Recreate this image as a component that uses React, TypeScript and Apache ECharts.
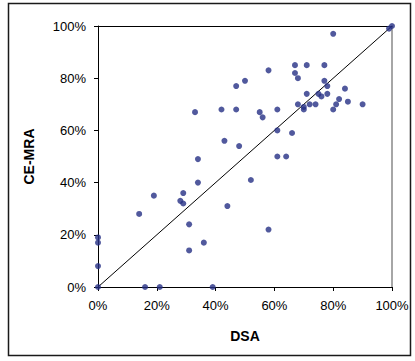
import React, { useEffect, useRef } from "react";
import * as echarts from "echarts";

const dsa = [0, 0, 0, 0, 16, 21, 39, 14, 19, 28, 29, 29, 31, 31, 33, 34, 34, 36, 42, 43, 44, 47, 47, 48, 50, 52, 55, 56, 58, 58, 61, 61, 61, 64, 66, 67, 67, 68, 68, 70, 70, 71, 71, 72, 74, 75, 76, 77, 77, 78, 78, 80, 80, 81, 82, 84, 85, 90, 99, 100];
const cemra = [0, 19, 17, 8, 0, 0, 0, 28, 35, 33, 36, 32, 24, 14, 67, 49, 40, 17, 68, 56, 31, 77, 68, 54, 79, 41, 67, 65, 83, 22, 68, 60, 50, 50, 59, 85, 82, 80, 70, 69, 68, 85, 74, 70, 70, 74, 73, 85, 79, 77, 74, 97, 68, 70, 72, 76, 71, 70, 99, 100];
const identityLine = [[0, 0], [100, 100]];
const tickValues = { min: 0, max: 100, interval: 20 };
const xTitle = "DSA";
const yTitle = "CE-MRA";

export default function App() {
  const ref = useRef<HTMLDivElement>(null);
  useEffect(() => {
    document.body.style.margin = "0";
    if (!ref.current) return;
    const chart = echarts.init(ref.current, null, { renderer: "svg" });
    const font = "Liberation Sans, Arial, sans-serif";
    const points = dsa.map((x, i) => [x, cemra[i]]);
    chart.setOption({
      animation: false,
      backgroundColor: "#fff",
      grid: { left: 98, top: 26, right: 23, bottom: 74, containLabel: false },
      graphic: [
        {
          type: "rect",
          shape: { x: 8.5, y: 3.5, width: 402, height: 352 },
          style: { fill: "none", stroke: "#1a1a1a", lineWidth: 1.5 },
          silent: true,
        },
      ],
      xAxis: [
        {
          type: "value",
          ...tickValues,
          name: xTitle,
          nameLocation: "middle",
          nameGap: 42,
          nameTextStyle: { fontFamily: font, fontWeight: "bold", fontSize: 14, color: "#000" },
          axisLine: { show: true, onZero: false, lineStyle: { color: "#000", width: 1 } },
          axisTick: { show: true, inside: false, length: 4, lineStyle: { color: "#000" } },
          axisLabel: { formatter: "{value}%", fontFamily: font, fontSize: 13, color: "#000", margin: 12 },
          splitLine: { show: false },
        },
        {
          type: "value",
          ...tickValues,
          position: "top",
          axisLine: { show: true, onZero: false, lineStyle: { color: "#000", width: 1 } },
          axisTick: { show: false },
          axisLabel: { show: false },
          splitLine: { show: false },
        },
      ],
      yAxis: [
        {
          type: "value",
          ...tickValues,
          name: yTitle,
          nameLocation: "middle",
          nameGap: 62,
          nameRotate: 90,
          nameTextStyle: { fontFamily: font, fontWeight: "bold", fontSize: 14, color: "#000" },
          axisLine: { show: true, onZero: false, lineStyle: { color: "#000", width: 1 } },
          axisTick: { show: true, inside: false, length: 4, lineStyle: { color: "#000" } },
          axisLabel: { formatter: "{value}%", fontFamily: font, fontSize: 13, color: "#000", margin: 12 },
          splitLine: { show: false },
        },
        {
          type: "value",
          ...tickValues,
          position: "right",
          axisLine: { show: true, onZero: false, lineStyle: { color: "#888", width: 1.5 } },
          axisTick: { show: false },
          axisLabel: { show: false },
          splitLine: { show: false },
        },
      ],
      series: [
        {
          type: "line",
          data: identityLine,
          symbol: "none",
          lineStyle: { color: "#000", width: 1 },
          silent: true,
          z: 1,
        },
        {
          type: "scatter",
          data: points,
          symbol: "circle",
          symbolSize: 6,
          itemStyle: { color: "#252F85" },
          z: 3,
        },
      ],
    });
    return () => chart.dispose();
  }, []);
  return <div ref={ref} style={{ width: 415, height: 361 }} />;
}
